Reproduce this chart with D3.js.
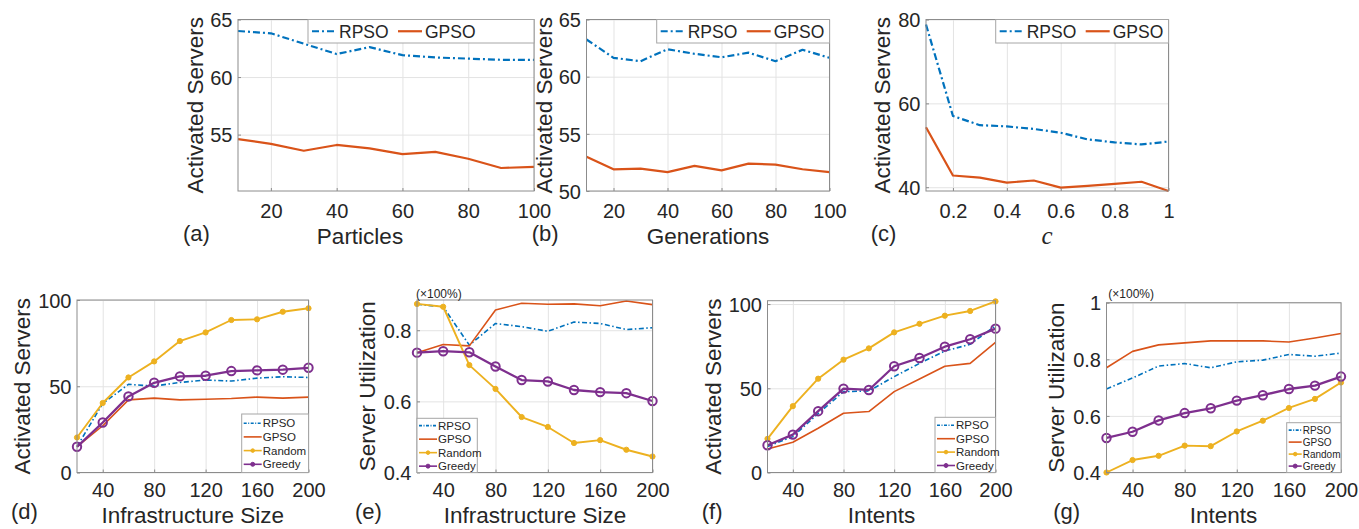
<!DOCTYPE html>
<html>
<head>
<meta charset="utf-8">
<script src="https://cdn.jsdelivr.net/npm/d3@7"></script>
<style>
body { margin: 0; background: #fff; }
svg text { font-family: "Liberation Sans", Arial, Helvetica, sans-serif; fill: #262626; }
</style>
</head>
<body>
<svg id="fig" width="1359" height="529"></svg>
<script>
// ---- x values ----
var particles = [10, 20, 30, 40, 50, 60, 70, 80, 90, 100];
var generations = [10, 20, 30, 40, 50, 60, 70, 80, 90, 100];
var cValues = [0.1, 0.2, 0.3, 0.4, 0.5, 0.6, 0.7, 0.8, 0.9, 1];
var infraSizes = [20, 40, 60, 80, 100, 120, 140, 160, 180, 200];
var intents = [20, 40, 60, 80, 100, 120, 140, 160, 180, 200];

// ---- (a) particles ----
var rpsoParticles = [64.0, 63.8, 62.9, 62.0, 62.6, 61.9, 61.7, 61.6, 61.5, 61.5];
var gpsoParticles = [54.6, 54.2, 53.6, 54.1, 53.8, 53.3, 53.5, 52.9, 52.1, 52.2];
// ---- (b) generations ----
var rpsoGenerations = [63.25, 61.65, 61.35, 62.4, 62.0, 61.7, 62.1, 61.35, 62.35, 61.65];
var gpsoGenerations = [53.0, 51.9, 51.95, 51.65, 52.2, 51.8, 52.4, 52.3, 51.9, 51.65];
// ---- (c) c ----
var rpsoC = [78.8, 57.0, 54.8, 54.5, 53.9, 53.0, 51.4, 50.7, 50.2, 50.9];
var gpsoC = [54.3, 42.8, 42.3, 41.1, 41.6, 39.9, 40.3, 40.8, 41.3, 39.1];
// ---- (d) activated servers vs infrastructure size ----
var rpsoInfraAct = [15.0, 40.0, 51.1, 50.1, 52.2, 53.6, 53.0, 54.7, 55.5, 55.1];
var gpsoInfraAct = [15.0, 27.1, 42.1, 43.1, 42.1, 42.5, 42.9, 43.7, 43.1, 43.7];
var randomInfraAct = [20.3, 40.3, 55.1, 64.4, 76.2, 81.2, 88.4, 88.8, 93.2, 95.2];
var greedyInfraAct = [14.9, 29.0, 44.1, 52.0, 55.7, 56.1, 58.8, 59.2, 59.6, 60.7];
// ---- (e) utilization vs infrastructure size ----
var rpsoInfraUtil = [0.873, 0.866, 0.758, 0.819, 0.810, 0.797, 0.823, 0.819, 0.802, 0.807];
var gpsoInfraUtil = [0.737, 0.760, 0.756, 0.857, 0.876, 0.873, 0.874, 0.869, 0.882, 0.872];
var randomInfraUtil = [0.874, 0.866, 0.702, 0.635, 0.556, 0.528, 0.483, 0.491, 0.464, 0.445];
var greedyInfraUtil = [0.737, 0.741, 0.738, 0.698, 0.660, 0.656, 0.632, 0.626, 0.623, 0.601];
// ---- (f) activated servers vs intents ----
var rpsoIntentAct = [15.4, 21.3, 35.0, 48.0, 48.4, 56.9, 64.8, 72.1, 76.1, 87.1];
var gpsoIntentAct = [13.9, 18.0, 26.3, 35.2, 36.2, 48.0, 55.5, 63.1, 64.8, 77.3];
var randomIntentAct = [20.0, 39.4, 55.7, 67.0, 73.7, 83.2, 88.3, 93.1, 95.9, 101.6];
var greedyIntentAct = [16.2, 22.5, 36.4, 49.8, 49.0, 63.1, 68.0, 74.7, 79.1, 85.4];
// ---- (g) utilization vs intents ----
var rpsoIntentUtil = [0.695, 0.734, 0.776, 0.785, 0.770, 0.791, 0.797, 0.817, 0.811, 0.822];
var gpsoIntentUtil = [0.770, 0.828, 0.851, 0.858, 0.865, 0.865, 0.865, 0.861, 0.875, 0.891];
var randomIntentUtil = [0.400, 0.444, 0.459, 0.495, 0.493, 0.545, 0.583, 0.628, 0.660, 0.718];
var greedyIntentUtil = [0.522, 0.544, 0.584, 0.610, 0.627, 0.654, 0.673, 0.695, 0.707, 0.739];

// ---- ticks ----
var ticksTo100 = [20, 40, 60, 80, 100];
var cTicks = [0.2, 0.4, 0.6, 0.8, 1];
var ticksTo200 = [40, 80, 120, 160, 200];
var yTicksA = [55, 60, 65];
var yTicksB = [50, 55, 60, 65];
var yTicksC = [40, 60, 80];
var yTicksAct = [0, 50, 100];
var yTicksUtil = [0.4, 0.6, 0.8];
var yTicksUtilG = [0.4, 0.6, 0.8, 1];

var seriesNames = ["RPSO", "GPSO", "Random", "Greedy"];
var colors = {RPSO: "#0072BD", GPSO: "#D95319", Random: "#EDB120", Greedy: "#7E2F8E"};

var svg = d3.select("#fig");

var panels = [
  {tag: "(a)", xs: particles, ys: [rpsoParticles, gpsoParticles], left: 238, right: 534, top: 19.5, bottom: 191,
   xDomain: [10, 100], yDomain: [50.1, 65], xTicks: ticksTo100, yTicks: yTicksA,
   yLabel: "Activated Servers", yLabelX: 203, xLabel: "Particles", xLabelX: 360, tagX: 183, row: 0,
   legend: {x: 308, y: 19.5, w: 226, h: 23.5, orient: "h"}},
  {tag: "(b)", xs: generations, ys: [rpsoGenerations, gpsoGenerations], left: 586.5, right: 829.5, top: 19.5, bottom: 191,
   xDomain: [10, 100], yDomain: [50, 65], xTicks: ticksTo100, yTicks: yTicksB,
   yLabel: "Activated Servers", yLabelX: 552, xLabel: "Generations", xLabelX: 708, tagX: 531.7, row: 0,
   legend: {x: 656.7, y: 19.5, w: 172.8, h: 23.5, orient: "h"}},
  {tag: "(c)", xs: cValues, ys: [rpsoC, gpsoC], left: 926, right: 1168.5, top: 19.5, bottom: 191,
   xDomain: [0.1, 1], yDomain: [39.1, 80], xTicks: cTicks, yTicks: yTicksC,
   yLabel: "Activated Servers", yLabelX: 890, xLabel: "c", italic: true, xLabelX: 1047, tagX: 870.7, row: 0,
   legend: {x: 995.7, y: 19.5, w: 172.8, h: 23.5, orient: "h"}},
  {tag: "(d)", xs: infraSizes, ys: [rpsoInfraAct, gpsoInfraAct, randomInfraAct, greedyInfraAct], left: 77, right: 308.5, top: 300, bottom: 472.5,
   xDomain: [20, 200], yDomain: [0, 100], xTicks: ticksTo200, yTicks: yTicksAct,
   yLabel: "Activated Servers", yLabelX: 29.5, xLabel: "Infrastructure Size", xLabelX: 192.7, tagX: 11, row: 1,
   legend: {x: 241.7, y: 414, w: 66.8, h: 58.5, orient: "v", font: 11.5, gap: 13.7, len: 18}},
  {tag: "(e)", xs: infraSizes, ys: [rpsoInfraUtil, gpsoInfraUtil, randomInfraUtil, greedyInfraUtil], left: 417, right: 652.5, top: 300, bottom: 472.5,
   xDomain: [20, 200], yDomain: [0.4, 0.885], xTicks: ticksTo200, yTicks: yTicksUtil, note: {x: 416, y: 297.5},
   yLabel: "Server Utilization", yLabelX: 375, xLabel: "Infrastructure Size", xLabelX: 535, tagX: 355, row: 1,
   legend: {x: 417, y: 418.3, w: 60.3, h: 54.2, orient: "v", font: 11.5, gap: 13.5, len: 18}},
  {tag: "(f)", xs: intents, ys: [rpsoIntentAct, gpsoIntentAct, randomIntentAct, greedyIntentAct], left: 767.5, right: 995.5, top: 300.7, bottom: 472.5,
   xDomain: [20, 200], yDomain: [0, 102], xTicks: ticksTo200, yTicks: yTicksAct,
   yLabel: "Activated Servers", yLabelX: 721, xLabel: "Intents", xLabelX: 881.5, tagX: 701.7, row: 1,
   legend: {x: 935, y: 417.3, w: 60.5, h: 55.2, orient: "v", font: 11.5, gap: 13.4, len: 18}},
  {tag: "(g)", xs: intents, ys: [rpsoIntentUtil, gpsoIntentUtil, randomIntentUtil, greedyIntentUtil], left: 1106.5, right: 1341, top: 302.7, bottom: 472.5,
   xDomain: [20, 200], yDomain: [0.4, 1], xTicks: ticksTo200, yTicks: yTicksUtilG, note: {x: 1108.3, y: 298},
   yLabel: "Server Utilization", yLabelX: 1064, xLabel: "Intents", xLabelX: 1223.5, tagX: 1053.3, row: 1,
   legend: {x: 1286.7, y: 422.7, w: 54.3, h: 49.8, orient: "v", font: 10, gap: 12, len: 13}}
];

// row-dependent text positions (baselines)
var rowText = [
  {tickY: 218, labelY: 244, tagY: 241, lw: 2.2, dash: "7,3,2,3"},
  {tickY: 497, labelY: 523, tagY: 519, lw: 1.6, dash: "5,2.5,1.5,2.5"}
];

function styleFor(name, row) {
  var rt = rowText[row];
  if (name == "RPSO") return {w: rt.lw, dash: rt.dash};
  if (name == "GPSO") return {w: rt.lw, dash: null};
  if (name == "Random") return {w: 1.9, dash: null};
  return {w: 2.3, dash: null};
}

function drawMarker(g, name, cx, cy, small) {
  if (name == "Random") {
    g.append("circle").attr("cx", cx).attr("cy", cy).attr("r", small ? 1.8 : 2.6)
      .attr("fill", colors.Random).attr("stroke", colors.Random).attr("stroke-width", 1);
  } else if (name == "Greedy") {
    g.append("circle").attr("cx", cx).attr("cy", cy).attr("r", small ? 2 : 4.2)
      .attr("fill", small ? colors.Greedy : "none").attr("stroke", colors.Greedy).attr("stroke-width", small ? 1 : 2);
  }
}

function drawPanel(p) {
  var rt = rowText[p.row];
  var g = svg.append("g");
  var x = d3.scaleLinear().domain(p.xDomain).range([p.left, p.right]);
  var y = d3.scaleLinear().domain(p.yDomain).range([p.bottom, p.top]);
  var h = p.bottom - p.top, w = p.right - p.left;

  // grid
  g.append("g").attr("transform", `translate(0,${p.bottom})`)
    .call(d3.axisBottom(x).tickValues(p.xTicks).tickSize(-h).tickFormat(""))
    .call(s => { s.select(".domain").remove(); s.selectAll("line").attr("stroke", "#e3e3e3"); });
  g.append("g").attr("transform", `translate(${p.left},0)`)
    .call(d3.axisLeft(y).tickValues(p.yTicks).tickSize(-w).tickFormat(""))
    .call(s => { s.select(".domain").remove(); s.selectAll("line").attr("stroke", "#e3e3e3"); });

  // lines
  var line = d3.line().x(d => x(d[0])).y(d => y(d[1]));
  p.ys.forEach(function(vals, i) {
    var name = seriesNames[i];
    var st = styleFor(name, p.row);
    var pts = p.xs.map((xv, k) => [xv, vals[k]]);
    g.append("path").datum(pts).attr("d", line).attr("fill", "none")
      .attr("stroke", colors[name]).attr("stroke-width", st.w)
      .attr("stroke-dasharray", st.dash).attr("stroke-linejoin", "round");
    if (name == "Random" || name == "Greedy") {
      pts.forEach(d => drawMarker(g, name, x(d[0]), y(d[1]), false));
    }
  });

  // box
  g.append("rect").attr("x", p.left).attr("y", p.top).attr("width", w).attr("height", h)
    .attr("fill", "none").attr("stroke", "#8c8c8c").attr("stroke-width", 1);

  // tick labels
  var fmt = d => String(d);
  var xa = g.append("g").attr("transform", `translate(0,${p.bottom})`)
    .call(d3.axisBottom(x).tickValues(p.xTicks).tickSizeInner(-3).tickSizeOuter(0).tickFormat(fmt));
  xa.select(".domain").remove();
  xa.selectAll("line").attr("stroke", "#8c8c8c");
  xa.selectAll("text").attr("y", rt.tickY - p.bottom).attr("dy", 0)
    .style("font-size", "20px").attr("fill", "#262626");
  var ya = g.append("g").attr("transform", `translate(${p.left},0)`)
    .call(d3.axisLeft(y).tickValues(p.yTicks).tickSizeInner(-3).tickSizeOuter(0).tickFormat(fmt));
  ya.select(".domain").remove();
  ya.selectAll("line").attr("stroke", "#8c8c8c");
  ya.selectAll("text").attr("x", -5.5).attr("dy", "0.36em")
    .style("font-size", "20px").attr("fill", "#262626");

  // axis labels
  g.append("text").attr("transform", `translate(${p.yLabelX},${(p.top + p.bottom) / 2}) rotate(-90)`)
    .attr("text-anchor", "middle").style("font-size", "22.5px").text(p.yLabel);
  var xl = g.append("text").attr("x", p.xLabelX).attr("y", rt.labelY)
    .attr("text-anchor", "middle").style("font-size", "22.5px").text(p.xLabel);
  if (p.italic) {
    xl.style("font-family", "'Liberation Serif', 'DejaVu Serif', serif").style("font-style", "italic").style("font-size", "25px");
  }
  g.append("text").attr("x", p.tagX).attr("y", rt.tagY).style("font-size", "22px").text(p.tag);

  if (p.note) {
    g.append("text").attr("x", p.note.x).attr("y", p.note.y).style("font-size", "12px").text("(\u00d7100%)");
  }

  // legend
  var L = p.legend;
  var lg = g.append("g");
  lg.append("rect").attr("x", L.x).attr("y", L.y).attr("width", L.w).attr("height", L.h)
    .attr("fill", "#fff").attr("stroke", "#a6a6a6").attr("stroke-width", 1);
  var names = seriesNames.slice(0, p.ys.length);
  names.forEach(function(name, i) {
    var st = styleFor(name, p.row);
    var x0, cy, len, fs;
    if (L.orient == "h") {
      x0 = L.x + 4 + i * 86; cy = L.y + L.h / 2; len = 24; fs = 17.5;
    } else {
      x0 = L.x + 2; cy = L.y + (L.h - 3 * L.gap) / 2 + i * L.gap + 0.5; len = L.len; fs = L.font;
    }
    lg.append("line").attr("x1", x0).attr("x2", x0 + len).attr("y1", cy).attr("y2", cy)
      .attr("stroke", colors[name]).attr("stroke-width", L.orient == "h" ? st.w : Math.min(st.w, 1.6))
      .attr("stroke-dasharray", L.orient == "h" ? st.dash : (st.dash ? "3,1.5,1,1.5" : null));
    drawMarker(lg, name, x0 + len / 2, cy, true);
    lg.append("text").attr("x", x0 + len + (L.orient == "h" ? 3 : 1)).attr("y", cy).attr("dy", "0.36em")
      .style("font-size", fs + "px").text(name);
  });
}

panels.forEach(drawPanel);
</script>
</body>
</html>
